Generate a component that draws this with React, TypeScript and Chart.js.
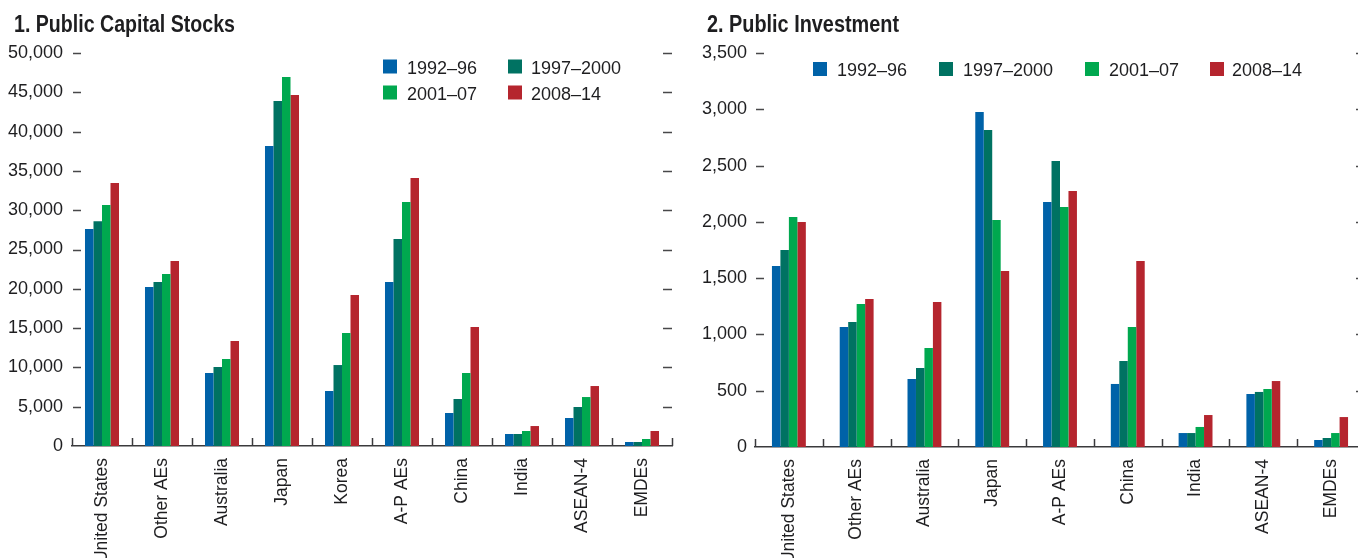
import React, { useEffect, useRef } from 'react';
import { Chart, registerables } from 'chart.js';

Chart.register(...registerables);

// ---------- data ----------
const periods = ['1992–96', '1997–2000', '2001–07', '2008–14'];
const periodColors = ['#0062A8', '#007262', '#00A84F', '#B5252E'];

const stockCategories = ['United States', 'Other AEs', 'Australia', 'Japan', 'Korea', 'A-P AEs', 'China', 'India', 'ASEAN-4', 'EMDEs'];
const stock1992 = [27600, 20230, 9290, 38160, 7000, 20860, 4200, 1530, 3560, 510];
const stock1997 = [28600, 20860, 10050, 43880, 10300, 26330, 5980, 1530, 4960, 510];
const stock2001 = [30660, 21880, 11070, 46940, 14370, 31040, 9290, 1910, 6230, 890];
const stock2008 = [33450, 23530, 13360, 44650, 19210, 34090, 15140, 2540, 7630, 1910];

const invCategories = ['United States', 'Other AEs', 'Australia', 'Japan', 'A-P AEs', 'China', 'India', 'ASEAN-4', 'EMDEs'];
const inv1992 = [1608, 1066, 604, 2976, 2176, 560, 124, 471, 62];
const inv1997 = [1750, 1110, 702, 2816, 2540, 764, 124, 489, 80];
const inv2001 = [2043, 1270, 879, 2016, 2132, 1066, 178, 515, 124];
const inv2008 = [1999, 1315, 1288, 1563, 2274, 1652, 284, 586, 266];

const stockAxis = { max: 50000, step: 5000 };
const invAxis = { max: 3500, step: 500 };

// ---------- styling ----------
const FONT = "'Liberation Sans', Arial, Helvetica, sans-serif";
const TEXT = '#1e1e20';

const decorPlugin = {
  id: 'decor',
  afterDraw(chart: any, _args: any, opts: any) {
    const { ctx, chartArea: a, scales } = chart;
    const x = scales.x;
    const y = scales.y;
    ctx.save();
    // inner y tick dashes on both sides
    ctx.strokeStyle = '#48484a';
    ctx.lineWidth = 1.6;
    y.ticks.forEach((t: any) => {
      if (t.value === 0) return;
      const py = Math.round(y.getPixelForValue(t.value)) + 0.5;
      ctx.beginPath();
      ctx.moveTo(a.left + 1, py);
      ctx.lineTo(a.left + 9, py);
      ctx.moveTo(a.right - 9, py);
      ctx.lineTo(a.right, py);
      ctx.stroke();
    });
    // category boundary ticks pointing up
    const n = chart.data.labels.length;
    ctx.strokeStyle = '#3a3a3c';
    ctx.lineWidth = 1.5;
    for (let i = 0; i <= n; i++) {
      let px: number;
      if (i === 0) px = a.left;
      else if (i === n) px = a.right;
      else px = (x.getPixelForValue(i - 1) + x.getPixelForValue(i)) / 2;
      px = Math.round(px) + 0.5;
      ctx.beginPath();
      ctx.moveTo(px, a.bottom);
      ctx.lineTo(px, a.bottom - 8);
      ctx.stroke();
    }
    // title (compressed to match condensed face)
    ctx.fillStyle = TEXT;
    ctx.font = `bold 23px ${FONT}`;
    ctx.textBaseline = 'alphabetic';
    ctx.textAlign = 'left';
    const w = ctx.measureText(opts.title).width;
    ctx.save();
    ctx.translate(opts.titleX, opts.titleY);
    ctx.scale(opts.titleW / w, 1);
    ctx.fillText(opts.title, 0, 0);
    ctx.restore();
    // legend
    ctx.font = `18px ${FONT}`;
    chart.data.datasets.forEach((ds: any, i: number) => {
      const p = opts.legend[i];
      ctx.fillStyle = ds.backgroundColor;
      ctx.fillRect(p.x, p.base - 14, 14, 14);
      ctx.fillStyle = TEXT;
      ctx.fillText(ds.label, p.tx, p.base);
    });
    ctx.restore();
  },
};

type PanelProps = {
  labels: string[];
  series: number[][];
  axis: { max: number; step: number };
  left: number;
  width: number;
  area: { left: number; right: number; top: number; bottom: number };
  yPad: number;
  catPct: number;
  decor: any;
};

function Panel(props: PanelProps) {
  const ref = useRef<HTMLCanvasElement | null>(null);
  useEffect(() => {
    const canvas = ref.current;
    if (!canvas) return;
    const H = 558;
    const { area } = props;
    const chart = new Chart(canvas, {
      type: 'bar',
      data: {
        labels: props.labels,
        datasets: props.series.map((d, i) => ({
          label: periods[i],
          data: d,
          backgroundColor: periodColors[i],
          borderWidth: 0,
          barPercentage: 1,
          categoryPercentage: props.catPct,
        })),
      },
      options: {
        responsive: false,
        maintainAspectRatio: false,
        animation: false,
        layout: { padding: { left: 0, top: area.top, right: props.width - area.right, bottom: 0 } },
        plugins: {
          legend: { display: false },
          tooltip: { enabled: false },
          title: { display: false },
          decor: props.decor,
        } as any,
        scales: {
          x: {
            grid: { display: false, drawTicks: false },
            border: { display: true, color: '#3a3a3c', width: 1.6 },
            ticks: {
              autoSkip: false,
              minRotation: 90,
              maxRotation: 90,
              padding: 12,
              color: TEXT,
              font: { family: FONT, size: 17.5 },
            },
            afterFit: (s: any) => {
              s.height = H - area.bottom;
            },
          },
          y: {
            min: 0,
            max: props.axis.max,
            grid: { display: false, drawTicks: false },
            border: { display: false },
            ticks: {
              stepSize: props.axis.step,
              padding: props.yPad,
              color: TEXT,
              font: { family: FONT, size: 18 },
              callback: (v: any) => Number(v).toLocaleString('en-US'),
            },
            afterFit: (s: any) => {
              s.width = area.left;
            },
          },
        } as any,
      },
      plugins: [decorPlugin],
    });
    return () => chart.destroy();
  }, []);
  return (
    <canvas
      ref={ref}
      width={props.width}
      height={558}
      style={{ position: 'absolute', left: props.left, top: 0, width: props.width, height: 558 }}
    />
  );
}

export default function App() {
  return (
    <div
      style={{
        position: 'fixed',
        left: 0,
        top: 0,
        width: 1358,
        height: 558,
        overflow: 'hidden',
        background: '#ffffff',
      }}
    >
      <Panel
        labels={stockCategories}
        series={[stock1992, stock1997, stock2001, stock2008]}
        axis={stockAxis}
        left={0}
        width={700}
        area={{ left: 72, right: 672, top: 53, bottom: 446 }}
        yPad={9}
        catPct={0.567}
        decor={{
          title: '1. Public Capital Stocks',
          titleX: 14,
          titleY: 31.7,
          titleW: 221,
          legend: [
            { x: 383, tx: 407, base: 73.5 },
            { x: 508, tx: 531, base: 73.5 },
            { x: 383, tx: 407, base: 99.5 },
            { x: 508, tx: 531, base: 99.5 },
          ],
        }}
      />
      <Panel
        labels={invCategories}
        series={[inv1992, inv1997, inv2001, inv2008]}
        axis={invAxis}
        left={680}
        width={700}
        area={{ left: 75, right: 685, top: 53, bottom: 447 }}
        yPad={8}
        catPct={0.5}
        decor={{
          title: '2. Public Investment',
          titleX: 27,
          titleY: 31.7,
          titleW: 192,
          legend: [
            { x: 133, tx: 157, base: 76 },
            { x: 259, tx: 283, base: 76 },
            { x: 405, tx: 429, base: 76 },
            { x: 530, tx: 552, base: 76 },
          ],
        }}
      />
    </div>
  );
}
